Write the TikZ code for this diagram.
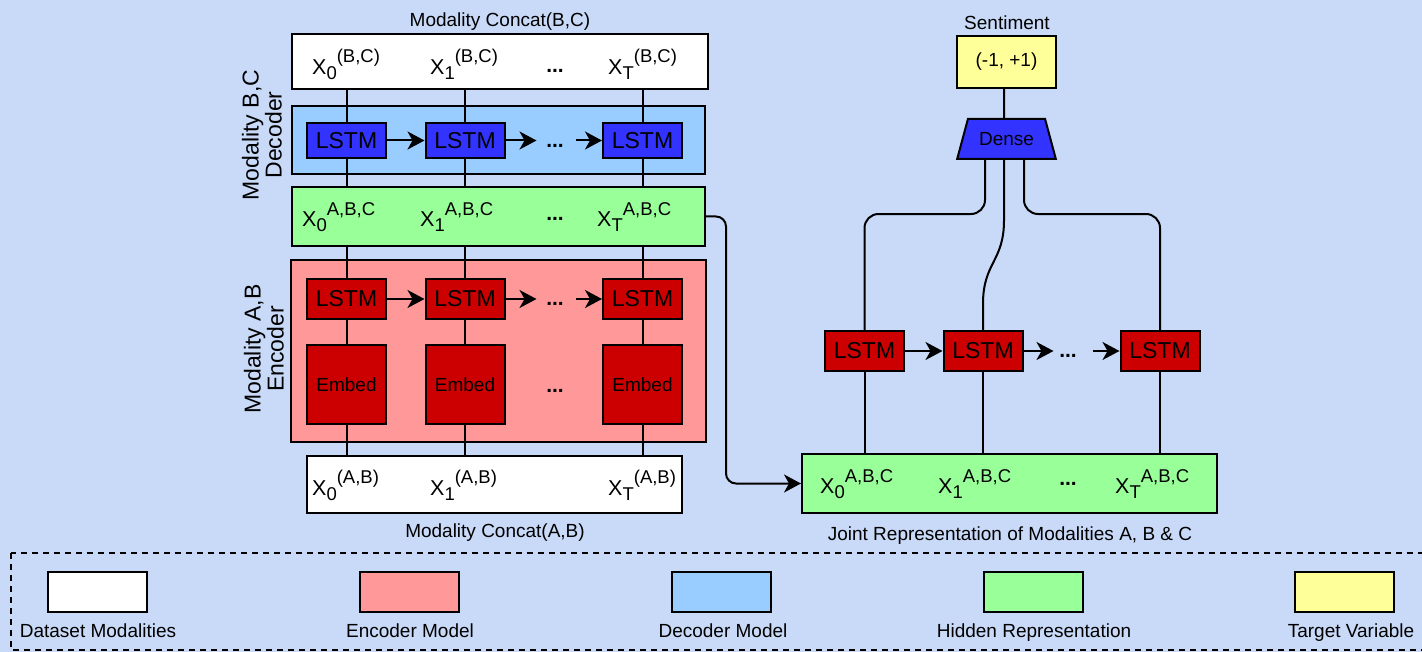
\documentclass[tikz,border=0pt]{standalone}
\usepackage{fontspec}
\setmainfont{Liberation Sans}
\usetikzlibrary{shapes.geometric,arrows.meta,calc}
\pgfdeclarelayer{back}
\pgfdeclarelayer{wires}
\pgfsetlayers{back,wires,main}

\definecolor{bgblue}{HTML}{C9DAF8}
\definecolor{encfill}{HTML}{FF9999}
\definecolor{darkred}{HTML}{CC0000}
\definecolor{decfill}{HTML}{99CCFF}
\definecolor{deepblue}{HTML}{3333FF}
\definecolor{hidfill}{HTML}{99FF99}
\definecolor{tgtfill}{HTML}{FFFF99}

\newcommand{\fsz}[1]{\fontsize{#1}{#1}\selectfont}
% X with a subscript and a superscript placed one after the other
\newcommand{\xvar}[3]{{\fsz{21.5}X}\raisebox{-5pt}{\fsz{18.5}#1}\raisebox{#3}{\fsz{18.5}#2}}

\tikzset{
  box/.style={draw=black, line width=2pt, rectangle, inner sep=0pt},
  cell/.style={box, minimum width=79, minimum height=#1},
  lstmred/.style={cell=40, fill=darkred, font=\fsz{23}},
  lstmblue/.style={cell=35, fill=deepblue, font=\fsz{23}},
  embedbox/.style={cell=79, fill=darkred, font=\fsz{19}},
  legbox/.style={box, minimum width=99, minimum height=40},
  lbl/.style={inner sep=0pt, anchor=base, font=\fsz{19}},
  xtxt/.style={inner sep=0pt, anchor=base west},
  dots/.style={inner sep=0pt, font=\fsz{21}\bfseries},
  wire/.style={draw=black, line width=2pt},
  arr/.style={wire, -{Stealth[length=17pt,width=18pt,inset=5pt]}},
}

\begin{document}
\begin{tikzpicture}[x=1pt,y=-1pt]
\useasboundingbox (0,0) rectangle (1422,652);

% ---------- containers ----------
\begin{pgfonlayer}{back}
  \fill[bgblue] (0,0) rectangle (1422,652);
  \node[box, fill=decfill, minimum width=413, minimum height=68] (dec) at (498.5,140) {};
  \node[box, fill=encfill, minimum width=415, minimum height=182] (enc) at (498.5,351) {};
\end{pgfonlayer}

\node[box, fill=white, minimum width=416, minimum height=55] (bcTop) at (500,61.5) {};
\node[box, fill=hidfill, minimum width=413, minimum height=59] (hid) at (498.5,216.5) {};
\node[box, fill=white, minimum width=375, minimum height=57] (abBot) at (494.5,484.5) {};

% ---------- labels ----------
\node[lbl] (lblBC) at (500,27) {Modality Concat(B,C)};
\node[lbl] (lblAB) at (495,537) {Modality Concat(A,B)};
\node[rotate=90, align=center, inner sep=0pt, font=\fsz{23}] (lblDec) at (262,135)
  {Modality B,C\\Decoder};
\node[rotate=90, align=center, inner sep=0pt, font=\fsz{23}] (lblEnc) at (264,349)
  {Modality A,B\\Encoder};

% ---------- sequence texts ----------
\node[xtxt] (bc0) at (312,75) {\xvar{0}{(B,C)}{12pt}};
\node[xtxt] (bc1) at (430,75) {\xvar{1}{(B,C)}{12pt}};
\node[dots] (bcd) at (555,71) {...};
\node[xtxt] (bcT) at (608,75) {\xvar{T}{(B,C)}{12pt}};

\node[xtxt] (h0) at (302,227) {\xvar{0}{A,B,C}{11pt}};
\node[xtxt] (h1) at (420,227) {\xvar{1}{A,B,C}{11pt}};
\node[dots] (hd) at (555,219) {...};
\node[xtxt] (hT) at (597,227) {\xvar{T}{A,B,C}{11pt}};

\node[xtxt] (ab0) at (312,495) {\xvar{0}{(A,B)}{12pt}};
\node[xtxt] (ab1) at (430,495) {\xvar{1}{(A,B)}{12pt}};
\node[xtxt] (abT) at (608,495) {\xvar{T}{(A,B)}{12pt}};

% ---------- decoder cells ----------
\node[lstmblue] (dL1) at (346.5,140.5) {LSTM};
\node[lstmblue] (dL2) at (465,140.5) {LSTM};
\node[dots] (dd) at (555,146) {...};
\node[lstmblue] (dL3) at (642.5,140.5) {LSTM};

% ---------- encoder cells ----------
\node[lstmred] (eL1) at (346.5,299) {LSTM};
\node[lstmred] (eL2) at (465,299) {LSTM};
\node[dots] (ed) at (555,304) {...};
\node[lstmred] (eL3) at (642.5,299) {LSTM};

\node[embedbox] (em1) at (346.5,384.5) {Embed};
\node[embedbox] (em2) at (465,384.5) {Embed};
\node[dots] (emd) at (555,391) {...};
\node[embedbox] (em3) at (642.5,384.5) {Embed};

% ---------- vertical wires through the stacks ----------
\begin{pgfonlayer}{wires}
  \foreach \c in {dL1,dL2,dL3}{
    \draw[wire] (\c |- bcTop.south) -- (\c |- hid.north);
  }
  \foreach \c in {eL1,eL2,eL3}{
    \draw[wire] (\c |- hid.south) -- (\c |- abBot.north);
  }
\end{pgfonlayer}

% recurrent arrows
\coordinate (dA) at ($(dL2.east)+(31,0)$);
\coordinate (dB) at ($(dL3.west)+(-26,0)$);
\draw[arr] (dL1.east) -- (dL2.west);
\draw[arr] (dL2.east) -- (dA);
\draw[arr] (dB) -- (dL3.west);

\coordinate (eA) at ($(eL2.east)+(31,0)$);
\coordinate (eB) at ($(eL3.west)+(-26,0)$);
\draw[arr] (eL1.east) -- (eL2.west);
\draw[arr] (eL2.east) -- (eA);
\draw[arr] (eB) -- (eL3.west);

% ---------- right-hand model ----------
\node[lbl] (lblSent) at (1007,30) {Sentiment};
\node[box, fill=tgtfill, minimum width=99, minimum height=52, font=\fsz{19}] (tgt) at (1006.5,62) {(-1, +1)};
\node[draw=black, line width=2pt, fill=deepblue, trapezium, trapezium stretches=true,
      trapezium angle=60, minimum width=99, minimum height=40, inner sep=0pt,
      font=\fsz{19}] (dense) at (1006.5,139) {\raisebox{-4pt}{Dense}};

\node[lstmred] (rL1) at (864.5,351) {LSTM};
\node[lstmred] (rL2) at (983,351) {LSTM};
\node[dots] (rd) at (1068,356) {...};
\node[lstmred] (rL3) at (1160,351) {LSTM};

\node[box, fill=hidfill, minimum width=415, minimum height=59] (joint) at (1009.5,483.5) {};
\node[lbl] (lblJoint) at (1010,540) {Joint Representation of Modalities A, B \& C};

\node[xtxt] (j0) at (820,493) {\xvar{0}{A,B,C}{11pt}};
\node[xtxt] (j1) at (938,493) {\xvar{1}{A,B,C}{11pt}};
\node[dots] (jd) at (1068,484) {...};
\node[xtxt] (jT) at (1115,493) {\xvar{T}{A,B,C}{11pt}};

\coordinate (tgtOut) at ($(tgt.south)+(-2.5,0)$);
\coordinate (denseIn) at ($(dense.north)+(-2.5,0)$);
\draw[wire] (tgtOut) -- (denseIn);

\draw[wire, rounded corners=14pt] ([xshift=-21.5pt]dense.south) -- ++(0,54) -| (rL1.north);
\draw[wire, rounded corners=14pt] ([xshift=17.5pt]dense.south) -- ++(0,54) -| (rL3.north);
\coordinate (m1) at ($(dense.south)+(-2.5,60)$);
\coordinate (m2) at ($(rL2.north)+(0,-26)$);
\draw[wire] ([xshift=-2.5pt]dense.south) -- (m1)
  .. controls ($(m1)+(0,42)$) and ($(m2)+(0,-42)$) .. (m2) -- (rL2.north);

\coordinate (rA) at ($(rL2.east)+(30,0)$);
\coordinate (rB) at ($(rL3.west)+(-27,0)$);
\draw[arr] (rL1.east) -- (rL2.west);
\draw[arr] (rL2.east) -- (rA);
\draw[arr] (rB) -- (rL3.west);

\foreach \c in {rL1,rL2,rL3}{
  \draw[wire] (\c.south) -- (\c |- joint.north);
}

% hidden representation feeds the joint representation
\draw[arr, rounded corners=10pt] (hid.east) -- ++(20,0) |- (joint.west);

% ---------- legend ----------
\draw[line width=2pt, dash pattern=on 6pt off 5pt] (11,553) rectangle (1440,650);
\node[legbox, fill=white]   (k1) at (97.5,592) {};
\node[legbox, fill=encfill] (k2) at (409,592) {};
\node[legbox, fill=decfill] (k3) at (721.5,592) {};
\node[legbox, fill=hidfill] (k4) at (1033.5,592) {};
\node[legbox, fill=tgtfill] (k5) at (1344.5,592) {};
\node[lbl] (t1) at (98,637) {Dataset Modalities};
\node[lbl] (t2) at (410,637) {Encoder Model};
\node[lbl] (t3) at (723,637) {Decoder Model};
\node[lbl] (t4) at (1034,637) {Hidden Representation};
\node[lbl] (t5) at (1351,637) {Target Variable};
\end{tikzpicture}
\end{document}
